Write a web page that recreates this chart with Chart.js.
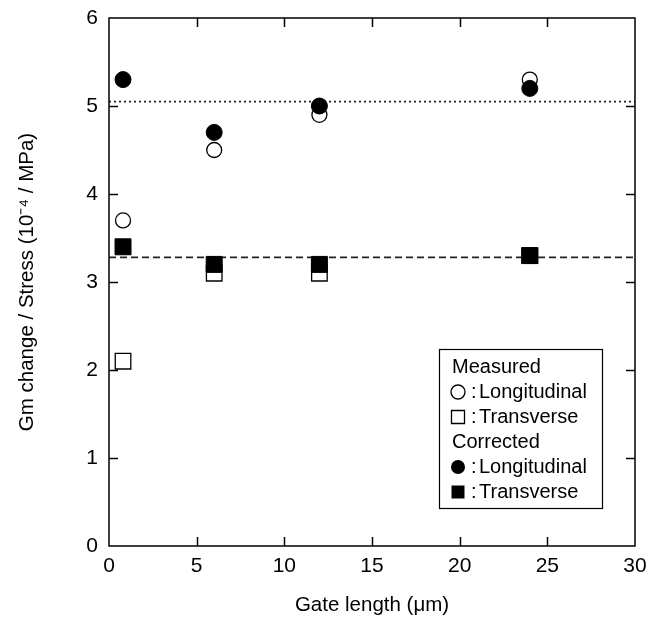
<!DOCTYPE html>
<html>
<head>
<meta charset="utf-8">
<script src="https://cdn.jsdelivr.net/npm/chart.js@4"></script>
<style>
html,body{margin:0;padding:0;background:#fff;}
#wrap{width:648px;height:627px;position:relative;}
</style>
</head>
<body>
<div id="wrap"><canvas id="c" width="648" height="627"></canvas></div>
<script>
// ---- data ----
const gateLengths = [0.8, 6, 12, 24];
const measuredLongitudinal = [3.7, 4.5, 4.9, 5.3];
const measuredTransverse = [2.1, 3.1, 3.1, 3.3];
const correctedLongitudinal = [5.3, 4.7, 5.0, 5.2];
const correctedTransverse = [3.4, 3.2, 3.2, 3.3];
const refLongitudinal = 5.05;
const refTransverse = 3.28;
const xRange = [0, 30];
const yRange = [0, 6];
const xStep = 5;
const yStep = 1;
const legendItems = [
  {text: 'Measured', marker: null},
  {text: 'Longitudinal', marker: 'openCircle'},
  {text: 'Transverse', marker: 'openSquare'},
  {text: 'Corrected', marker: null},
  {text: 'Longitudinal', marker: 'filledCircle'},
  {text: 'Transverse', marker: 'filledSquare'}
];
const xTitle = 'Gate length (\u03BCm)';
const yTitle = 'Gm change / Stress (10\u207B\u2074 / MPa)';

const FONT = 'Arial, "Liberation Sans", Helvetica, sans-serif';
const toPts = (ys) => gateLengths.map((x, i) => ({x: x, y: ys[i]}));

const framePlugin = {
  id: 'frame',
  afterDatasetsDraw(chart) {
    const {ctx, chartArea: a, scales: {x, y}} = chart;
    ctx.save();
    ctx.strokeStyle = '#000';
    ctx.lineWidth = 1.5;
    ctx.strokeRect(a.left, a.top, a.right - a.left, a.bottom - a.top);
    const tl = 9;
    ctx.beginPath();
    y.ticks.forEach(t => {
      if (t.value <= yRange[0] || t.value >= yRange[1]) return;
      const py = Math.round(y.getPixelForValue(t.value)) + 0.5;
      ctx.moveTo(a.left, py); ctx.lineTo(a.left + tl, py);
      ctx.moveTo(a.right, py); ctx.lineTo(a.right - tl, py);
    });
    x.ticks.forEach(t => {
      if (t.value <= xRange[0] || t.value >= xRange[1]) return;
      const px = Math.round(x.getPixelForValue(t.value)) + 0.5;
      ctx.moveTo(px, a.bottom); ctx.lineTo(px, a.bottom - tl);
      ctx.moveTo(px, a.top); ctx.lineTo(px, a.top + tl);
    });
    ctx.stroke();

    // legend box
    const bw = 163, bh = 159;
    const bx = a.right - 33 - bw;
    const by = a.bottom - 38 - bh;
    ctx.fillStyle = '#fff';
    ctx.fillRect(bx, by, bw, bh);
    ctx.lineWidth = 1.2;
    ctx.strokeRect(bx + 0.5, by + 0.5, bw, bh);
    ctx.font = '20px ' + FONT;
    ctx.textBaseline = 'middle';
    ctx.fillStyle = '#000';
    legendItems.forEach((it, i) => {
      const cy = by + 18 + i * 25;
      const mx = bx + 19;
      if (!it.marker) {
        ctx.textAlign = 'left';
        ctx.fillText(it.text, bx + 13, cy);
        return;
      }
      ctx.lineWidth = 1.3;
      ctx.beginPath();
      if (it.marker.endsWith('Circle')) {
        ctx.arc(mx, cy, 7, 0, Math.PI * 2);
      } else {
        ctx.rect(mx - 6.5, cy - 6.5, 13, 13);
      }
      if (it.marker.startsWith('filled')) { ctx.fillStyle = '#000'; ctx.fill(); }
      else { ctx.stroke(); }
      ctx.fillStyle = '#000';
      ctx.textAlign = 'left';
      ctx.fillText(':', bx + 32, cy);
      ctx.fillText(it.text, bx + 40, cy);
    });
    ctx.restore();
  }
};

new Chart(document.getElementById('c'), {
  type: 'scatter',
  data: {
    datasets: [
      {label: 'Corrected Longitudinal', data: toPts(correctedLongitudinal), pointStyle: 'circle', pointRadius: 8, pointHoverRadius: 8, backgroundColor: '#000', borderColor: '#000', borderWidth: 1},
      {label: 'Corrected Transverse', data: toPts(correctedTransverse), pointStyle: 'rect', pointRadius: 11.3, pointHoverRadius: 11.3, backgroundColor: '#000', borderColor: '#000', borderWidth: 1},
      {label: 'Measured Longitudinal', data: toPts(measuredLongitudinal), pointStyle: 'circle', pointRadius: 7.5, pointHoverRadius: 7.5, backgroundColor: '#fff', borderColor: '#000', borderWidth: 1.3},
      {label: 'Measured Transverse', data: toPts(measuredTransverse), pointStyle: 'rect', pointRadius: 11, pointHoverRadius: 11, backgroundColor: '#fff', borderColor: '#000', borderWidth: 1.3},
      {label: 'ref L', type: 'line', data: [{x: xRange[0], y: refLongitudinal}, {x: xRange[1], y: refLongitudinal}], borderColor: '#222', borderWidth: 1.6, borderDash: [2, 3], pointRadius: 0, fill: false},
      {label: 'ref T', type: 'line', data: [{x: xRange[0], y: refTransverse}, {x: xRange[1], y: refTransverse}], borderColor: '#222', borderWidth: 1.6, borderDash: [7, 4], pointRadius: 0, fill: false}
    ]
  },
  options: {
    responsive: false,
    animation: false,
    events: [],
    layout: {padding: {left: 0, top: 18, right: 13, bottom: 0}},
    plugins: {legend: {display: false}, tooltip: {enabled: false}},
    scales: {
      x: {
        type: 'linear', min: xRange[0], max: xRange[1],
        afterFit: s => { s.height = 81; s.paddingLeft = 0; s.paddingRight = 0; },
        grid: {display: false, drawTicks: false},
        border: {display: false},
        ticks: {stepSize: xStep, padding: 8, color: '#000', font: {family: FONT, size: 21}, maxRotation: 0},
        title: {display: true, text: xTitle, color: '#000', font: {family: FONT, size: 20.5}, padding: {top: 0, bottom: 9}}
      },
      y: {
        type: 'linear', min: yRange[0], max: yRange[1],
        afterFit: s => { s.width = 109; s.paddingTop = 0; s.paddingBottom = 0; },
        grid: {display: false, drawTicks: false},
        border: {display: false},
        ticks: {stepSize: yStep, padding: 11, color: '#000', font: {family: FONT, size: 21}},
        title: {display: true, text: yTitle, color: '#000', font: {family: FONT, size: 20.5}, padding: {top: 15, bottom: 0}}
      }
    }
  },
  plugins: [framePlugin]
});
</script>
</body>
</html>
